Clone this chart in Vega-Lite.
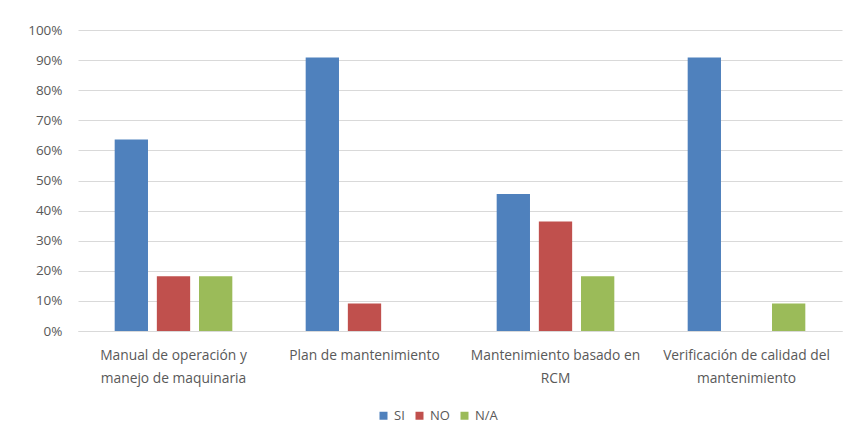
{
  "$schema": "https://vega.github.io/schema/vega-lite/v6.json",
  "width": 764,
  "height": 301,
  "autosize": "none",
  "padding": {"left": 78, "top": 30, "right": 6, "bottom": 105},
  "background": "white",
  "config": {
    "font": "Open Sans",
    "view": {"stroke": null}
  },
  "data": {
    "values": [
      {"categoria": "Manual de operación y manejo de maquinaria", "respuesta": "SI", "valor": 0.636},
      {"categoria": "Manual de operación y manejo de maquinaria", "respuesta": "NO", "valor": 0.182},
      {"categoria": "Manual de operación y manejo de maquinaria", "respuesta": "N/A", "valor": 0.182},
      {"categoria": "Plan de mantenimiento", "respuesta": "SI", "valor": 0.909},
      {"categoria": "Plan de mantenimiento", "respuesta": "NO", "valor": 0.091},
      {"categoria": "Plan de mantenimiento", "respuesta": "N/A", "valor": 0.0},
      {"categoria": "Mantenimiento basado en RCM", "respuesta": "SI", "valor": 0.455},
      {"categoria": "Mantenimiento basado en RCM", "respuesta": "NO", "valor": 0.364},
      {"categoria": "Mantenimiento basado en RCM", "respuesta": "N/A", "valor": 0.182},
      {"categoria": "Verificación de calidad del mantenimiento", "respuesta": "SI", "valor": 0.909},
      {"categoria": "Verificación de calidad del mantenimiento", "respuesta": "NO", "valor": 0.0},
      {"categoria": "Verificación de calidad del mantenimiento", "respuesta": "N/A", "valor": 0.091}
    ]
  },
  "mark": {"type": "bar"},
  "encoding": {
    "x": {
      "field": "categoria",
      "type": "nominal",
      "sort": null,
      "scale": {"paddingInner": 0, "paddingOuter": 0},
      "axis": {
        "title": null,
        "labelAngle": 0,
        "labelColor": "#595959",
        "labelFont": "Open Sans",
        "labelFontSize": 13.8,
        "labelPadding": 24,
        "labelLineHeight": 23,
        "labelBaseline": "middle",
        "ticks": false,
        "domainColor": "#d9d9d9",
        "labelExpr": "datum.value == 'Manual de operación y manejo de maquinaria' ? ['Manual de operación y', 'manejo de maquinaria'] : datum.value == 'Mantenimiento basado en RCM' ? ['Mantenimiento basado en', 'RCM'] : datum.value == 'Verificación de calidad del mantenimiento' ? ['Verificación de calidad del', 'mantenimiento'] : datum.value"
      }
    },
    "xOffset": {
      "field": "respuesta",
      "type": "nominal",
      "sort": ["SI", "NO", "N/A"],
      "scale": {"paddingInner": 0.21, "paddingOuter": 0.87}
    },
    "y": {
      "field": "valor",
      "type": "quantitative",
      "scale": {"domain": [0, 1]},
      "axis": {
        "title": null,
        "format": ".0%",
        "values": [0, 0.1, 0.2, 0.3, 0.4, 0.5, 0.6, 0.7, 0.8, 0.9, 1],
        "labelOverlap": false,
        "domain": false,
        "ticks": false,
        "labelColor": "#595959",
        "labelFont": "Open Sans",
        "labelFontSize": 13.5,
        "labelPadding": 16,
        "gridColor": "#d9d9d9"
      }
    },
    "color": {
      "field": "respuesta",
      "type": "nominal",
      "sort": ["SI", "NO", "N/A"],
      "scale": {"domain": ["SI", "NO", "N/A"], "range": ["#4f81bd", "#c0504d", "#9bbb59"]},
      "legend": {
        "title": null,
        "orient": "none",
        "legendX": 299,
        "legendY": 379,
        "direction": "horizontal",
        "symbolType": "square",
        "symbolSize": 64,
        "symbolStrokeWidth": 0,
        "labelColor": "#595959",
        "labelFont": "Open Sans",
        "labelFontSize": 13,
        "labelOffset": 4,
        "columnPadding": 8
      }
    }
  }
}
